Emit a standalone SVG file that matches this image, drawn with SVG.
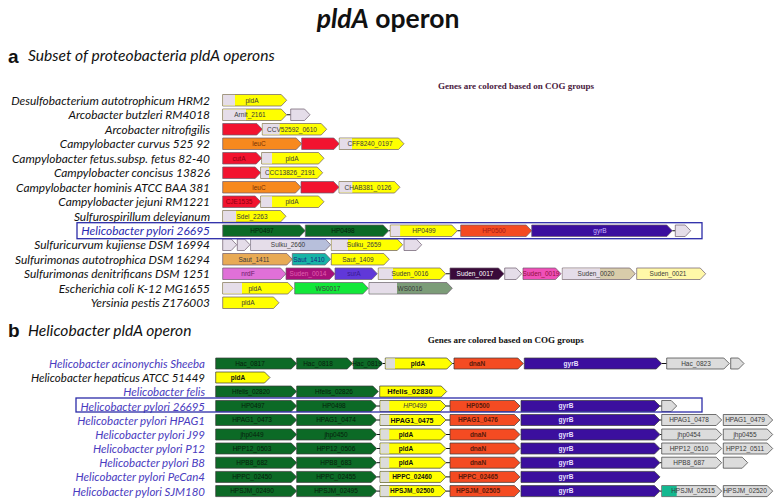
<svg xmlns="http://www.w3.org/2000/svg" width="775" height="500" viewBox="0 0 775 500">
<style>
.o{stroke:#6a5a6c;stroke-width:.7}
.o2{stroke:#3a3a3a;stroke-width:.7}
.lav{fill:#e5dde9}.yel{fill:#ffff00}.red{fill:#f2132f}.org{fill:#f7891e}.grn{fill:#0c6a26}
.hp5{fill:#f44b22}.pur{fill:#3b0f9e}.bgy{fill:#b7bfdb}.tan{fill:#e8aa55}.teal{fill:#18b4a6}
.orc{fill:#e070d8}.mag{fill:#a8107a}.bpu{fill:#6038d8}.drk{fill:#3a0a3a}.pnk{fill:#f050b8}
.tn2{fill:#d8ccaa}.pyl{fill:#fff8a8}.bgr{fill:#12e83a}.ggr{fill:#7c9c78}.gry{fill:#dcdcdc}.tl2{fill:#14b890}
.t{font-family:"Liberation Sans",Arial,sans-serif;font-size:6.5px;text-anchor:middle;fill:#3a3a3a}
.tb{font-family:"Liberation Sans",Arial,sans-serif;font-size:6.5px;font-weight:bold;text-anchor:middle;fill:#111}
.tg{fill:#06200c}.tr{fill:#5a1a0a}.tw{fill:#e8e0ff}
.sp{font-family:Lato,"Open Sans",sans-serif;font-style:italic;font-size:11.9px;text-anchor:end;fill:#111}
.spb{fill:#4a3cc0}
.sb{font-size:11.5px}
.note{font-family:"Liberation Serif","Times New Roman",serif;font-weight:bold;font-size:9px}
.hd{font-family:Lato,"Open Sans",sans-serif;font-style:italic;font-size:15.6px;fill:#111}
.pl{font-family:"Liberation Sans",Arial,sans-serif;font-weight:bold;font-size:19px;fill:#111}
.c{stroke:#111;stroke-width:1}
.box{fill:none;stroke:#2b2ba8;stroke-width:1.3}
</style>

<text x="388" y="28" text-anchor="middle" style="font-family:Lato,'Open Sans',sans-serif;font-weight:bold;font-size:26.5px;fill:#111"><tspan font-style="italic">pldA</tspan> operon</text>

<text class="pl" x="8" y="63">a</text>
<text class="hd" x="28" y="61">Subset of proteobacteria pldA operons</text>
<text class="note" x="438" y="88.5" fill="#4a1a40">Genes are colored based on COG groups</text>

<g id="species-a">
<text class="sp" x="210" y="104.7">Desulfobacterium autotrophicum HRM2</text>
<text class="sp" x="210" y="119.2">Arcobacter butzleri RM4018</text>
<text class="sp" x="210" y="133.7">Arcobacter nitrofigilis</text>
<text class="sp" x="210" y="148.2">Campylobacter curvus 525 92</text>
<text class="sp" x="210" y="162.7">Campylobacter fetus.subsp. fetus 82-40</text>
<text class="sp" x="210" y="177.2">Campylobacter concisus 13826</text>
<text class="sp" x="210" y="191.7">Campylobacter hominis ATCC BAA 381</text>
<text class="sp" x="210" y="206.2">Campylobacter jejuni RM1221</text>
<text class="sp" x="210" y="220.7">Sulfurospirillum deleyianum</text>
<text class="sp" x="210" y="235.2" style="fill:#2a2ab0">Helicobacter pylori 26695</text>
<text class="sp" x="210" y="249.2">Sulfuricurvum kujiense DSM 16994</text>
<text class="sp" x="210" y="263.7">Sulfurimonas autotrophica DSM 16294</text>
<text class="sp" x="210" y="278.2">Sulfurimonas denitrificans DSM 1251</text>
<text class="sp" x="210" y="292.7">Escherichia coli K-12 MG1655</text>
<text class="sp" x="210" y="307.2">Yersinia pestis Z176003</text>
</g>

<g id="connectors">
<line class="c" x1="286.7" y1="114.75" x2="290.7" y2="114.75"/>
<line class="c" x1="388.7" y1="230.75" x2="390.3" y2="230.75"/>
<line class="c" x1="457.3" y1="230.75" x2="460.7" y2="230.75"/>
<line class="c" x1="672.3" y1="230.75" x2="675.3" y2="230.75"/>
<line class="c" x1="445.7" y1="273.75" x2="450" y2="273.75"/>
<line class="c" x1="382.7" y1="363.5" x2="385.3" y2="363.5"/>
<line class="c" x1="452.3" y1="363.5" x2="454" y2="363.5"/>
<line class="c" x1="661.7" y1="363.5" x2="666.7" y2="363.5"/>
<line class="c" x1="376.7" y1="406" x2="380" y2="406"/>
<line class="c" x1="446" y1="406" x2="450" y2="406"/>
<line class="c" x1="660" y1="406" x2="661.7" y2="406"/>
<line class="c" x1="376.7" y1="420" x2="380" y2="420"/>
<line class="c" x1="446" y1="420" x2="450" y2="420"/>
<line class="c" x1="660" y1="420" x2="661.7" y2="420"/>
<line class="c" x1="376.7" y1="434.5" x2="380" y2="434.5"/>
<line class="c" x1="446" y1="434.5" x2="450" y2="434.5"/>
<line class="c" x1="660" y1="434.5" x2="661.7" y2="434.5"/>
<line class="c" x1="376.7" y1="448.5" x2="380" y2="448.5"/>
<line class="c" x1="446" y1="448.5" x2="450" y2="448.5"/>
<line class="c" x1="660" y1="448.5" x2="661.7" y2="448.5"/>
<line class="c" x1="376.7" y1="462.7" x2="380" y2="462.7"/>
<line class="c" x1="446" y1="462.7" x2="450" y2="462.7"/>
<line class="c" x1="660" y1="462.7" x2="661.7" y2="462.7"/>
<line class="c" x1="376.7" y1="476.9" x2="380" y2="476.9"/>
<line class="c" x1="446" y1="476.9" x2="450" y2="476.9"/>
<line class="c" x1="376.7" y1="491.1" x2="380" y2="491.1"/>
<line class="c" x1="446" y1="491.1" x2="450" y2="491.1"/>
<line class="c" x1="660" y1="491.1" x2="661.7" y2="491.1"/>
</g>

<!-- Panel a genes -->
<g id="a0-pldA"><polygon class="o yel" points="222.7,94.5 281.2,94.5 286.7,100.25 281.2,106 222.7,106"/><rect class="lav" x="223.05" y="94.85" width="11.95" height="10.8"/><text class="t" x="252" y="102.6">pldA</text></g>

<g id="a1-Arnit_2161"><polygon class="o yel" points="222.7,109 281.2,109 286.7,114.75 281.2,120.5 222.7,120.5"/><rect class="lav" x="223.05" y="109.35" width="22.95" height="10.8"/><text class="t" x="250" y="117.1">Arnit_2161</text></g>
<g id="a1-g2"><polygon class="o lav" points="290.7,109 304.5,109 310,114.75 304.5,120.5 290.7,120.5"/></g>

<g id="a2-g1"><polygon class="o red" points="222.7,123.5 256.8,123.5 262.3,129.25 256.8,135 222.7,135"/></g>
<g id="a2-CCV52592_0610"><polygon class="o yel" points="262.3,123.5 321.2,123.5 326.7,129.25 321.2,135 262.3,135"/><rect class="lav" x="262.65" y="123.85" width="17" height="10.8"/><text class="t" x="292" y="131.6">CCV52592_0610</text></g>

<g id="a3-leuC"><polygon class="o org" points="222.7,138 296.2,138 301.7,143.75 296.2,149.5 222.7,149.5"/><text class="t" x="259" y="146.1" style="fill:#7a3000">leuC</text></g>
<g id="a3-g2"><polygon class="o red" points="301.7,138 333.8,138 339.3,143.75 333.8,149.5 301.7,149.5"/></g>
<g id="a3-CFF8240_0197"><polygon class="o yel" points="339.3,138 398.5,138 404,143.75 398.5,149.5 339.3,149.5"/><rect class="lav" x="339.65" y="138.35" width="12.35" height="10.8"/><text class="t" x="370" y="146.1">CFF8240_0197</text></g>

<g id="a4-cutA"><polygon class="o red" points="222.7,152.5 256.2,152.5 261.7,158.25 256.2,164 222.7,164"/><text class="t" x="239" y="160.6" style="fill:#8a0010">cutA</text></g>
<g id="a4-pldA"><polygon class="o yel" points="261.7,152.5 318.5,152.5 324,158.25 318.5,164 261.7,164"/><rect class="lav" x="262.05" y="152.85" width="10" height="10.8"/><text class="t" x="292" y="160.6">pldA</text></g>

<g id="a5-g1"><polygon class="o red" points="222.7,167 255.2,167 260.7,172.75 255.2,178.5 222.7,178.5"/></g>
<g id="a5-CCC13826_2191"><polygon class="o yel" points="260.7,167 317.2,167 322.7,172.75 317.2,178.5 260.7,178.5"/><rect class="lav" x="261.05" y="167.35" width="8" height="10.8"/><text class="t" x="290" y="175.1">CCC13826_2191</text></g>

<g id="a6-leuC"><polygon class="o org" points="222.7,181.5 295.5,181.5 301,187.25 295.5,193 222.7,193"/><text class="t" x="259" y="189.6" style="fill:#7a3000">leuC</text></g>
<g id="a6-g2"><polygon class="o red" points="301,181.5 333.5,181.5 339,187.25 333.5,193 301,193"/></g>
<g id="a6-CHAB381_0126"><polygon class="o yel" points="339,181.5 394.5,181.5 400,187.25 394.5,193 339,193"/><rect class="lav" x="339.35" y="181.85" width="13" height="10.8"/><text class="t" x="368" y="189.6">CHAB381_0126</text></g>

<g id="a7-CJE1535"><polygon class="o red" points="222.7,196 255.2,196 260.7,201.75 255.2,207.5 222.7,207.5"/><text class="t" x="239" y="204.1" style="fill:#8a0010">CJE1535</text></g>
<g id="a7-pldA"><polygon class="o yel" points="260.7,196 318.5,196 324,201.75 318.5,207.5 260.7,207.5"/><rect class="lav" x="261.05" y="196.35" width="11" height="10.8"/><text class="t" x="292" y="204.1">pldA</text></g>

<g id="a8-Sdel_2263"><polygon class="o yel" points="222.7,210.5 280.5,210.5 286,216.25 280.5,222 222.7,222"/><rect class="lav" x="223.05" y="210.85" width="13" height="10.8"/><text class="t" x="252" y="218.6">Sdel_2263</text></g>

<g id="a9-HP0497"><polygon class="o grn" points="222.7,225 299.8,225 305.3,230.75 299.8,236.5 222.7,236.5"/><text class="t tg" x="262" y="233.1">HP0497</text></g>
<g id="a9-HP0498"><polygon class="o grn" points="305.3,225 383.2,225 388.7,230.75 383.2,236.5 305.3,236.5"/><text class="t tg" x="343" y="233.1">HP0498</text></g>
<g id="a9-HP0499"><polygon class="o yel" points="390.3,225 451.8,225 457.3,230.75 451.8,236.5 390.3,236.5"/><rect class="lav" x="390.65" y="225.35" width="9.5" height="10.8"/><text class="t" x="424" y="233.1">HP0499</text></g>
<g id="a9-HP0500"><polygon class="o hp5" points="460.7,225 526.2,225 531.7,230.75 526.2,236.5 460.7,236.5"/><text class="t" x="494" y="233.1" style="fill:#a01818">HP0500</text></g>
<g id="a9-gyrB"><polygon class="o pur" points="531.7,225 666.8,225 672.3,230.75 666.8,236.5 531.7,236.5"/><text class="t" x="600" y="233.1" style="fill:#c8b8ff">gyrB</text></g>
<g id="a9-g6"><polygon class="o lav" points="675.3,225 685.2,225 690.7,230.75 685.2,236.5 675.3,236.5"/></g>

<g id="a10-g1"><polygon class="o lav" points="222.7,239 231.2,239 236.7,244.75 231.2,250.5 222.7,250.5"/></g>
<g id="a10-g2"><polygon class="o lav" points="237.3,239 244.5,239 250,244.75 244.5,250.5 237.3,250.5"/></g>
<g id="a10-Sulku_2660"><polygon class="o bgy" points="250.7,239 325.2,239 330.7,244.75 325.2,250.5 250.7,250.5"/><rect class="lav" x="251.05" y="239.35" width="48.95" height="10.8"/><text class="t" x="288" y="247.1">Sulku_2660</text></g>
<g id="a10-Sulku_2659"><polygon class="o yel" points="331.3,239 397.2,239 402.7,244.75 397.2,250.5 331.3,250.5"/><rect class="lav" x="331.65" y="239.35" width="16.35" height="10.8"/><text class="t" x="364" y="247.1">Sulku_2659</text></g>
<g id="a10-g5"><polygon class="o lav" points="404,239 416.2,239 421.7,244.75 416.2,250.5 404,250.5"/></g>

<g id="a11-Saut_1411"><polygon class="o tan" points="222.7,253.5 286.8,253.5 292.3,259.25 286.8,265 222.7,265"/><text class="t" x="254" y="261.6">Saut_1411</text></g>
<g id="a11-Saut_1410"><polygon class="o teal" points="292.3,253.5 325.2,253.5 330.7,259.25 325.2,265 292.3,265"/><text class="t" x="309" y="261.6" style="fill:#1a2a80">Saut_1410</text></g>
<g id="a11-Saut_1409"><polygon class="o yel" points="331.3,253.5 383.8,253.5 389.3,259.25 383.8,265 331.3,265"/><text class="t" x="358" y="261.6">Saut_1409</text></g>

<g id="a12-nrdF"><polygon class="o orc" points="222.7,268 280.5,268 286,273.75 280.5,279.5 222.7,279.5"/><text class="t" x="248" y="276.1" style="fill:#6a1a6a">nrdF</text></g>
<g id="a12-Suden_0014"><polygon class="o mag" points="286,268 329.5,268 335,273.75 329.5,279.5 286,279.5"/><text class="t" x="308" y="276.1" style="fill:#e060b0">Suden_0014</text></g>
<g id="a12-surA"><polygon class="o bpu" points="335,268 371.8,268 377.3,273.75 371.8,279.5 335,279.5"/><text class="t" x="354" y="276.1" style="fill:#3a1a90">surA</text></g>
<g id="a12-Suden_0016"><polygon class="o yel" points="378.3,268 440.2,268 445.7,273.75 440.2,279.5 378.3,279.5"/><rect class="lav" x="378.65" y="268.35" width="14.35" height="10.8"/><text class="t" x="410" y="276.1">Suden_0016</text></g>
<g id="a12-Suden_0017"><polygon class="o drk" points="450,268 498.5,268 504,273.75 498.5,279.5 450,279.5"/><text class="t" x="475" y="276.1" style="fill:#fff">Suden_0017</text></g>
<g id="a12-g6"><polygon class="o lav" points="504.7,268 516.2,268 521.7,273.75 516.2,279.5 504.7,279.5"/></g>
<g id="a12-Suden_0019"><polygon class="o pnk" points="523,268 555.5,268 561,273.75 555.5,279.5 523,279.5"/><text class="t" x="541" y="276.1" style="fill:#901040">Suden_0019</text></g>
<g id="a12-Suden_0020"><polygon class="o tn2" points="562.3,268 629.8,268 635.3,273.75 629.8,279.5 562.3,279.5"/><rect class="lav" x="562.65" y="268.35" width="37.35" height="10.8"/><text class="t" x="596" y="276.1">Suden_0020</text></g>
<g id="a12-Suden_0021"><polygon class="o pyl" points="636.7,268 700.2,268 705.7,273.75 700.2,279.5 636.7,279.5"/><text class="t" x="668" y="276.1">Suden_0021</text></g>

<g id="a13-pldA"><polygon class="o yel" points="222.7,282.5 287.8,282.5 293.3,288.25 287.8,294 222.7,294"/><rect class="lav" x="223.05" y="282.85" width="18.95" height="10.8"/><text class="t" x="255" y="290.6">pldA</text></g>
<g id="a13-WS0017"><polygon class="o bgr" points="294.7,282.5 362.8,282.5 368.3,288.25 362.8,294 294.7,294"/><text class="t" x="328" y="290.6">WS0017</text></g>
<g id="a13-WS0016"><polygon class="o ggr" points="369,282.5 446.8,282.5 452.3,288.25 446.8,294 369,294"/><rect class="lav" x="369.35" y="282.85" width="27.65" height="10.8"/><text class="t" x="410" y="290.6">WS0016</text></g>

<g id="a14-pldA"><polygon class="o yel" points="222.7,297 273.5,297 279,302.75 273.5,308.5 222.7,308.5"/><text class="t" x="248" y="305.1">pldA</text></g>

<rect id="a-highlight" class="box" x="77" y="222.7" width="625" height="16"/>

<!-- Panel b -->
<text class="pl" x="8" y="337">b</text>
<text class="hd" x="28" y="336">Helicobacter pldA operon</text>
<text class="note" x="427.7" y="342.5" fill="#111">Genes are colored based on COG groups</text>

<g id="species-b">
<text class="sp sb spb" x="205" y="368">Helicobacter acinonychis Sheeba</text>
<text class="sp sb" x="205" y="382">Helicobacter hepaticus ATCC 51449</text>
<text class="sp sb spb" x="205" y="396">Helicobacter felis</text>
<text class="sp sb spb" x="205" y="410.5">Helicobacter pylori 26695</text>
<text class="sp sb spb" x="205" y="424.5">Helicobacter pylori HPAG1</text>
<text class="sp sb spb" x="205" y="439">Helicobacter pylori J99</text>
<text class="sp sb spb" x="205" y="453">Helicobacter pylori P12</text>
<text class="sp sb spb" x="205" y="467.2">Helicobacter pylori B8</text>
<text class="sp sb spb" x="205" y="481.4">Helicobacter pylori PeCan4</text>
<text class="sp sb spb" x="205" y="495.6">Helicobacter pylori SJM180</text>
</g>

<g id="b0-Hac_0817"><polygon class="o2 grn" points="215.7,358 291.2,358 296.7,363.5 291.2,369 215.7,369"/><text class="t tg" x="250" y="365.8">Hac_0817</text></g>
<g id="b0-Hac_0818"><polygon class="o2 grn" points="296.7,358 347.2,358 352.7,363.5 347.2,369 296.7,369"/><text class="t tg" x="318" y="365.8">Hac_0818</text></g>
<g id="b0-Hac_0819"><polygon class="o2 grn" points="353.3,358 377.2,358 382.7,363.5 377.2,369 353.3,369"/><text class="t tg" x="367" y="365.8">Hac_0819</text></g>
<g id="b0-pldA"><polygon class="o2 yel" points="385.3,358 446.8,358 452.3,363.5 446.8,369 385.3,369"/><rect class="gry" x="385.65" y="358.35" width="9.35" height="10.3"/><text class="tb" x="418" y="365.8">pldA</text></g>
<g id="b0-dnaN"><polygon class="o2 hp5" points="454,358 517.8,358 523.3,363.5 517.8,369 454,369"/><text class="tb tr" x="477" y="365.8">dnaN</text></g>
<g id="b0-gyrB"><polygon class="o2 pur" points="524.3,358 656.2,358 661.7,363.5 656.2,369 524.3,369"/><text class="tb tw" x="571" y="365.8">gyrB</text></g>
<g id="b0-Hac_0823"><polygon class="o2 gry" points="666.7,358 723.8,358 729.3,363.5 723.8,369 666.7,369"/><text class="t" x="696" y="365.8">Hac_0823</text></g>
<g id="b0-g8"><polygon class="o2 gry" points="730.7,358 738.5,358 744,363.5 738.5,369 730.7,369"/></g>

<g id="b1-pldA"><polygon class="o2 yel" points="215.7,372 264.5,372 270,377.5 264.5,383 215.7,383"/><text class="tb" x="238" y="379.8">pldA</text></g>

<g id="b2-Hfelis_02820"><polygon class="o2 grn" points="215.7,386 291.2,386 296.7,391.5 291.2,397 215.7,397"/><text class="t tg" x="251" y="393.8">Hfelis_02820</text></g>
<g id="b2-Hfelis_02826"><polygon class="o2 grn" points="296.7,386 372.8,386 378.3,391.5 372.8,397 296.7,397"/><text class="t tg" x="334" y="393.8">Hfelis_02826</text></g>
<g id="b2-Hfelis_02830"><polygon class="o2 yel" points="379.7,386 441.2,386 446.7,391.5 441.2,397 379.7,397"/><text class="tb" x="410" y="394.3" style="font-size:7.5px">Hfelis_02830</text></g>

<g id="b3-HP0497"><polygon class="o2 grn" points="215.7,400.5 291.2,400.5 296.7,406 291.2,411.5 215.7,411.5"/><text class="t tg" x="253" y="408.3">HP0497</text></g>
<g id="b3-HP0498"><polygon class="o2 grn" points="296.7,400.5 371.2,400.5 376.7,406 371.2,411.5 296.7,411.5"/><text class="t tg" x="334" y="408.3">HP0498</text></g>
<g id="b3-HP0499"><polygon class="o2 yel" points="380,400.5 440.5,400.5 446,406 440.5,411.5 380,411.5"/><rect class="gry" x="380.35" y="400.85" width="8.95" height="10.3"/><text class="t" x="415" y="408.3" font-style="italic">HP0499</text></g>
<g id="b3-HP0500"><polygon class="o2 hp5" points="450,400.5 514.5,400.5 520,406 514.5,411.5 450,411.5"/><text class="tb tr" x="478" y="408.3">HP0500</text></g>
<g id="b3-gyrB"><polygon class="o2 pur" points="521,400.5 654.5,400.5 660,406 654.5,411.5 521,411.5"/><text class="tb tw" x="566" y="408.3">gyrB</text></g>
<g id="b3-g6"><polygon class="o2 gry" points="661.7,400.5 671.2,400.5 676.7,406 671.2,411.5 661.7,411.5"/></g>

<g id="b4-HPAG1_0473"><polygon class="o2 grn" points="215.7,414.5 291.2,414.5 296.7,420 291.2,425.5 215.7,425.5"/><text class="t tg" x="252" y="422.3">HPAG1_0473</text></g>
<g id="b4-HPAG1_0474"><polygon class="o2 grn" points="296.7,414.5 371.2,414.5 376.7,420 371.2,425.5 296.7,425.5"/><text class="t tg" x="336" y="422.3">HPAG1_0474</text></g>
<g id="b4-HPAG1_0475"><polygon class="o2 yel" points="380,414.5 440.5,414.5 446,420 440.5,425.5 380,425.5"/><rect class="gry" x="380.35" y="414.85" width="8.95" height="10.3"/><text class="tb" x="412" y="422.6" style="font-size:7px">HPAG1_0475</text></g>
<g id="b4-HPAG1_0476"><polygon class="o2 hp5" points="450,414.5 514.5,414.5 520,420 514.5,425.5 450,425.5"/><text class="tb tr" x="478" y="422.3">HPAG1_0476</text></g>
<g id="b4-gyrB"><polygon class="o2 pur" points="521,414.5 654.5,414.5 660,420 654.5,425.5 521,425.5"/><text class="tb tw" x="566" y="422.3">gyrB</text></g>
<g id="b4-HPAG1_0478"><polygon class="o2 gry" points="661.7,414.5 716.2,414.5 721.7,420 716.2,425.5 661.7,425.5"/><text class="t" x="689" y="422.3">HPAG1_0478</text></g>
<g id="b4-HPAG1_0479"><polygon class="o2 gry" points="723.3,414.5 767.2,414.5 772.7,420 767.2,425.5 723.3,425.5"/><text class="t" x="745" y="422.3">HPAG1_0479</text></g>

<g id="b5-jhp0449"><polygon class="o2 grn" points="215.7,429 291.2,429 296.7,434.5 291.2,440 215.7,440"/><text class="t tg" x="252" y="436.8">jhp0449</text></g>
<g id="b5-jhp0450"><polygon class="o2 grn" points="296.7,429 371.2,429 376.7,434.5 371.2,440 296.7,440"/><text class="t tg" x="336" y="436.8">jhp0450</text></g>
<g id="b5-pldA"><polygon class="o2 yel" points="380,429 440.5,429 446,434.5 440.5,440 380,440"/><rect class="gry" x="380.35" y="429.35" width="8.95" height="10.3"/><text class="tb" x="406" y="436.8">pldA</text></g>
<g id="b5-dnaN"><polygon class="o2 hp5" points="450,429 514.5,429 520,434.5 514.5,440 450,440"/><text class="tb tr" x="478" y="436.8">dnaN</text></g>
<g id="b5-gyrB"><polygon class="o2 pur" points="521,429 654.5,429 660,434.5 654.5,440 521,440"/><text class="tb tw" x="566" y="436.8">gyrB</text></g>
<g id="b5-jhp0454"><polygon class="o2 gry" points="661.7,429 716.2,429 721.7,434.5 716.2,440 661.7,440"/><text class="t" x="689" y="436.8">jhp0454</text></g>
<g id="b5-jhp0455"><polygon class="o2 gry" points="723.3,429 767.2,429 772.7,434.5 767.2,440 723.3,440"/><text class="t" x="745" y="436.8">jhp0455</text></g>

<g id="b6-HPP12_0503"><polygon class="o2 grn" points="215.7,443 291.2,443 296.7,448.5 291.2,454 215.7,454"/><text class="t tg" x="252" y="450.8">HPP12_0503</text></g>
<g id="b6-HPP12_0506"><polygon class="o2 grn" points="296.7,443 371.2,443 376.7,448.5 371.2,454 296.7,454"/><text class="t tg" x="336" y="450.8">HPP12_0506</text></g>
<g id="b6-pldA"><polygon class="o2 yel" points="380,443 440.5,443 446,448.5 440.5,454 380,454"/><rect class="gry" x="380.35" y="443.35" width="8.95" height="10.3"/><text class="tb" x="406" y="450.8">pldA</text></g>
<g id="b6-dnaN"><polygon class="o2 hp5" points="450,443 514.5,443 520,448.5 514.5,454 450,454"/><text class="tb tr" x="478" y="450.8">dnaN</text></g>
<g id="b6-gyrB"><polygon class="o2 pur" points="521,443 654.5,443 660,448.5 654.5,454 521,454"/><text class="tb tw" x="566" y="450.8">gyrB</text></g>
<g id="b6-HPP12_0510"><polygon class="o2 gry" points="661.7,443 716.2,443 721.7,448.5 716.2,454 661.7,454"/><text class="t" x="689" y="450.8">HPP12_0510</text></g>
<g id="b6-HPP12_0511"><polygon class="o2 gry" points="723.3,443 767.2,443 772.7,448.5 767.2,454 723.3,454"/><text class="t" x="745" y="450.8">HPP12_0511</text></g>

<g id="b7-HPB8_682"><polygon class="o2 grn" points="215.7,457.2 291.2,457.2 296.7,462.7 291.2,468.2 215.7,468.2"/><text class="t tg" x="252" y="465">HPB8_682</text></g>
<g id="b7-HPB8_683"><polygon class="o2 grn" points="296.7,457.2 371.2,457.2 376.7,462.7 371.2,468.2 296.7,468.2"/><text class="t tg" x="336" y="465">HPB8_683</text></g>
<g id="b7-pldA"><polygon class="o2 yel" points="380,457.2 440.5,457.2 446,462.7 440.5,468.2 380,468.2"/><rect class="gry" x="380.35" y="457.55" width="8.95" height="10.3"/><text class="tb" x="406" y="465">pldA</text></g>
<g id="b7-dnaN"><polygon class="o2 hp5" points="450,457.2 514.5,457.2 520,462.7 514.5,468.2 450,468.2"/><text class="tb tr" x="478" y="465">dnaN</text></g>
<g id="b7-gyrB"><polygon class="o2 pur" points="521,457.2 654.5,457.2 660,462.7 654.5,468.2 521,468.2"/><text class="tb tw" x="566" y="465">gyrB</text></g>
<g id="b7-HPB8_687"><polygon class="o2 gry" points="661.7,457.2 716.2,457.2 721.7,462.7 716.2,468.2 661.7,468.2"/><text class="t" x="689" y="465">HPB8_687</text></g>
<g id="b7-g7"><polygon class="o2 gry" points="723.3,457.2 742.2,457.2 747.7,462.7 742.2,468.2 723.3,468.2"/></g>

<g id="b8-HPPC_02450"><polygon class="o2 grn" points="215.7,471.4 291.2,471.4 296.7,476.9 291.2,482.4 215.7,482.4"/><text class="t tg" x="252" y="479.2">HPPC_02450</text></g>
<g id="b8-HPPC_02455"><polygon class="o2 grn" points="296.7,471.4 371.2,471.4 376.7,476.9 371.2,482.4 296.7,482.4"/><text class="t tg" x="336" y="479.2">HPPC_02455</text></g>
<g id="b8-HPPC_02460"><polygon class="o2 yel" points="380,471.4 440.5,471.4 446,476.9 440.5,482.4 380,482.4"/><rect class="gry" x="380.35" y="471.75" width="8.95" height="10.3"/><text class="tb" x="412" y="479.2">HPPC_02460</text></g>
<g id="b8-HPPC_02465"><polygon class="o2 hp5" points="450,471.4 514.5,471.4 520,476.9 514.5,482.4 450,482.4"/><text class="tb tr" x="478" y="479.2">HPPC_02465</text></g>
<g id="b8-gyrB"><polygon class="o2 pur" points="521,471.4 654.5,471.4 660,476.9 654.5,482.4 521,482.4"/><text class="tb tw" x="566" y="479.2">gyrB</text></g>

<g id="b9-HPSJM_02490"><polygon class="o2 grn" points="215.7,485.6 291.2,485.6 296.7,491.1 291.2,496.6 215.7,496.6"/><text class="t tg" x="252" y="493.4">HPSJM_02490</text></g>
<g id="b9-HPSJM_02495"><polygon class="o2 grn" points="296.7,485.6 371.2,485.6 376.7,491.1 371.2,496.6 296.7,496.6"/><text class="t tg" x="336" y="493.4">HPSJM_02495</text></g>
<g id="b9-HPSJM_02500"><polygon class="o2 yel" points="380,485.6 440.5,485.6 446,491.1 440.5,496.6 380,496.6"/><rect class="gry" x="380.35" y="485.95" width="8.95" height="10.3"/><text class="tb" x="412" y="493.4">HPSJM_02500</text></g>
<g id="b9-HPSJM_02505"><polygon class="o2 hp5" points="450,485.6 514.5,485.6 520,491.1 514.5,496.6 450,496.6"/><text class="tb tr" x="478" y="493.4">HPSJM_02505</text></g>
<g id="b9-gyrB"><polygon class="o2 pur" points="521,485.6 654.5,485.6 660,491.1 654.5,496.6 521,496.6"/><text class="tb tw" x="566" y="493.4">gyrB</text></g>
<g id="b9-HPSJM_02515"><polygon class="o2 gry" points="661.7,485.6 716.2,485.6 721.7,491.1 716.2,496.6 661.7,496.6"/><rect class="tl2" x="662.05" y="485.95" width="14.65" height="10.3"/><text class="t" x="693" y="493.4">HPSJM_02515</text></g>
<g id="b9-HPSJM_02520"><polygon class="o2 gry" points="723.3,485.6 767.2,485.6 772.7,491.1 767.2,496.6 723.3,496.6"/><text class="t" x="745" y="493.4">HPSJM_02520</text></g>

<rect id="b-highlight" class="box" x="76" y="398" width="626" height="14"/>
</svg>
